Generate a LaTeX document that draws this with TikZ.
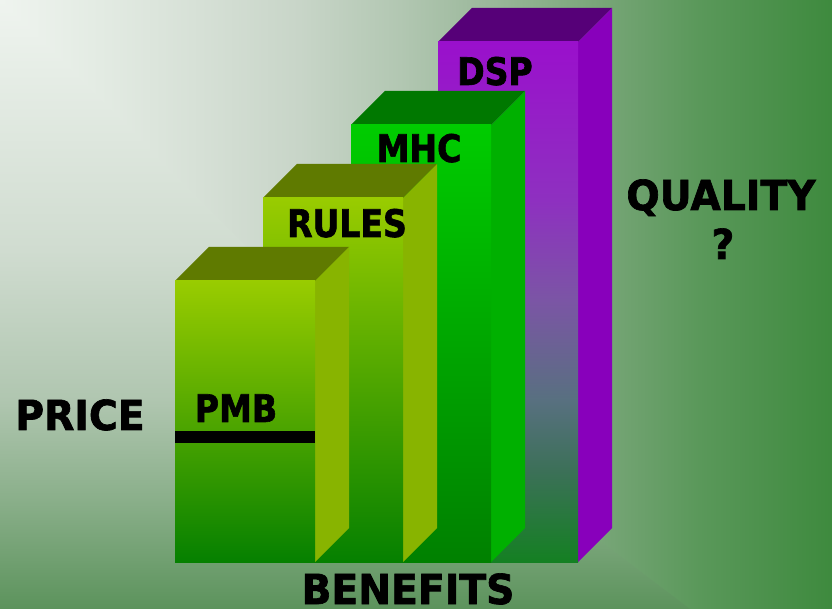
\documentclass[tikz,border=0pt]{standalone}
\usepackage{fontspec}
\setmainfont{DejaVu Sans}
\newfontfamily\lblfont{DejaVu Sans}[FakeStretch=0.95, BoldFeatures={FakeBold=1.6}]
\newfontfamily\barfont{DejaVu Sans}[FakeStretch=0.87, BoldFeatures={FakeBold=1.6}]

% background: corner gradient, one shading per direction
\pgfdeclarehorizontalshading{bgx}{100bp}{%
  color(0bp)=(rgb,255:red,239;green,244;blue,239);
  color(25bp)=(rgb,255:red,239;green,244;blue,239);
  color(31bp)=(rgb,255:red,227;green,235;blue,227);
  color(37bp)=(rgb,255:red,214;green,224;blue,214);
  color(43bp)=(rgb,255:red,200;green,213;blue,200);
  color(49bp)=(rgb,255:red,178;green,199;blue,178);
  color(55bp)=(rgb,255:red,152;green,182;blue,152);
  color(61.8bp)=(rgb,255:red,116;green,164;blue,116);
  color(67bp)=(rgb,255:red,90;green,152;blue,90);
  color(75bp)=(rgb,255:red,62;green,138;blue,62);
  color(100bp)=(rgb,255:red,62;green,138;blue,62)}
\pgfdeclareverticalshading{bgy}{100bp}{%
  color(0bp)=(rgb,255:red,92;green,147;blue,92);
  color(25bp)=(rgb,255:red,92;green,147;blue,92);
  color(34bp)=(rgb,255:red,138;green,175;blue,138);
  color(42.2bp)=(rgb,255:red,176;green,198;blue,176);
  color(54.5bp)=(rgb,255:red,208;green,220;blue,208);
  color(75bp)=(rgb,255:red,239;green,244;blue,239);
  color(100bp)=(rgb,255:red,239;green,244;blue,239)}

% violet front, fading into green at the foot
\pgfdeclareverticalshading{dspfront}{100bp}{%
  color(0bp)=(rgb,255:red,20;green,128;blue,34);
  color(25bp)=(rgb,255:red,20;green,128;blue,34);
  color(33.8bp)=(rgb,255:red,60;green,112;blue,88);
  color(40.6bp)=(rgb,255:red,88;green,112;blue,128);
  color(50.2bp)=(rgb,255:red,123;green,85;blue,165);
  color(59.8bp)=(rgb,255:red,142;green,48;blue,192);
  color(75bp)=(rgb,255:red,154;green,16;blue,204);
  color(100bp)=(rgb,255:red,154;green,16;blue,204)}

% column faces
\definecolor{limeTop}{HTML}{99CC00}
\definecolor{limeMid}{HTML}{6CA800}
\definecolor{limeBot}{HTML}{058000}
\definecolor{limeSide}{HTML}{88B400}
\definecolor{limeLid}{HTML}{5F7A00}
\definecolor{grnTop}{HTML}{00CC00}
\definecolor{grnMid}{HTML}{00A400}
\definecolor{grnBot}{HTML}{008000}
\definecolor{grnSide}{HTML}{00B000}
\definecolor{grnLid}{HTML}{007800}
\definecolor{vioSide}{HTML}{8800BB}
\definecolor{vioLid}{HTML}{560078}

% #1 left x, #2 top y, #3 front shading, #4 side, #5 lid
\newcommand{\drawcolumn}[5]{%
  \fill[#5] (#1,#2) -- ++(34,-34) -- ++(140,0) -- ++(-34,34) -- cycle;
  \fill[#4] (#1+140,#2) -- ++(34,-34) -- (#1+174,528) -- (#1+140,562) -- cycle;
  \shade[#3] (#1,#2) rectangle (#1+140,562);
}

\begin{document}
\begin{tikzpicture}[x=0.75pt, y=-0.75pt,
  lbl/.style={font=\lblfont\bfseries\fontsize{31}{36}\selectfont, inner sep=0pt, anchor=base},
  barlbl/.style={lbl, font=\barfont\bfseries\fontsize{28.5}{34}\selectfont}]
\useasboundingbox (0,0) rectangle (832,609);

\begin{scope}
\clip (0,0) rectangle (832,609);
\shade[shading=bgx] (0,0) rectangle (832,609);
\clip (0,0) -- (400,400) -- (612,550) -- (690,609) -- (0,609) -- cycle;
\shade[shading=bgy] (0,0) rectangle (832,609);
\end{scope}

% back to front
\drawcolumn{438}{42}{shading=dspfront}{vioSide}{vioLid}
\drawcolumn{351}{125}{top color=grnTop, middle color=grnMid, bottom color=grnBot}{grnSide}{grnLid}
\drawcolumn{263}{198}{top color=limeTop, middle color=limeMid, bottom color=limeBot}{limeSide}{limeLid}
\drawcolumn{175}{281}{top color=limeTop, middle color=limeMid, bottom color=limeBot}{limeSide}{limeLid}

% price mark on the first column
\fill[black] (175,431) rectangle (315,443);

\node[barlbl] (dsp) at (495,85) {DSP};
\node[barlbl] (mhc) at (419,162) {MHC};
\node[barlbl] (rules) at (347,237) {RULES};
\node[barlbl] (pmb) at (236,422) {PMB};

\node[lbl] (price) at (80,430) {PRICE};
\node[lbl] (quality) at (721,210) {QUALITY};
\node[lbl] (qmark) at (723,259) {?};
\node[lbl] (benefits) at (408,604) {BENEFITS};
\end{tikzpicture}
\end{document}
